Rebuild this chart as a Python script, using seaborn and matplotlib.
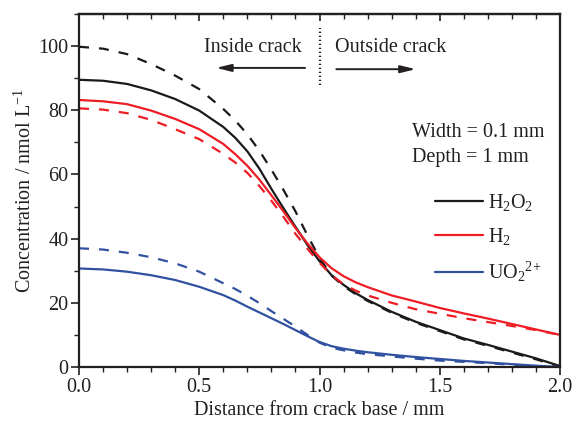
import numpy as np
import pandas as pd
import matplotlib
matplotlib.use("Agg")
import matplotlib.pyplot as plt
from matplotlib.ticker import MultipleLocator
import seaborn as sns

# ---- data ----
x = [0.0, 0.1, 0.2, 0.3, 0.4, 0.5, 0.6, 0.65, 0.7, 0.75, 0.8, 0.85, 0.9, 0.95, 1.0, 1.05, 1.1, 1.15,
     1.2, 1.3, 1.4, 1.5, 1.6, 1.7, 1.8, 1.9, 2.0]
h2o2_solid = [89.5, 89.2, 88.2, 86.2, 83.5, 79.9, 74.8, 71.4, 67.2, 61.8, 55.5, 49.5, 43.7, 38.0, 33.0,
              28.6, 25.6, 23.0, 20.9, 17.2, 14.1, 11.5, 8.9, 6.9, 4.8, 2.7, 0.3]
h2o2_dash = [99.8, 99.2, 97.5, 94.4, 90.8, 86.6, 80.4, 76.8, 72.5, 67.4, 61.5, 55.2, 48.5, 41.0, 34.0,
             28.5, 25.2, 22.7, 20.6, 16.9, 13.8, 11.2, 8.6, 6.6, 4.5, 2.4, 0.1]
h2_solid = [83.2, 82.8, 81.9, 79.9, 77.3, 74.1, 69.5, 66.3, 62.7, 58.4, 53.5, 48.5, 43.3, 38.5, 34.2,
            30.8, 28.3, 26.4, 24.9, 22.3, 20.4, 18.4, 16.7, 15.1, 13.4, 11.7, 10.0]
h2_dash = [80.6, 80.2, 79.1, 77.0, 74.1, 71.0, 66.4, 63.7, 60.5, 56.4, 51.8, 46.8, 41.5, 36.8, 32.5,
           28.6, 25.8, 23.8, 22.3, 20.0, 18.0, 16.6, 15.2, 14.0, 12.8, 11.5, 10.0]
uo2_solid = [30.7, 30.4, 29.7, 28.6, 27.1, 25.0, 22.4, 20.7, 18.8, 17.0, 15.2, 13.4, 11.5, 9.6, 7.8,
             6.5, 5.7, 5.1, 4.6, 3.8, 3.1, 2.5, 1.9, 1.4, 0.9, 0.4, 0.0]
uo2_dash = [37.0, 36.6, 35.6, 34.2, 32.3, 29.7, 26.1, 24.3, 22.2, 19.9, 17.4, 15.0, 12.6, 10.0, 7.6,
            6.0, 5.2, 4.5, 4.0, 3.3, 2.6, 2.0, 1.6, 1.2, 0.7, 0.3, 0.0]

species = ["H$_2$O$_2$", "H$_2$", "UO$_2$$^{2{+}}$"]
colors = ["#1a1a1a", "#ee1c24", "#3050a0"]

sns.set_style("ticks")
plt.rcParams["font.family"] = ["Liberation Serif", "DejaVu Serif"]
plt.rcParams["mathtext.fontset"] = "custom"
plt.rcParams["mathtext.rm"] = "Liberation Serif"
plt.rcParams["mathtext.it"] = "Liberation Serif:italic"
plt.rcParams["mathtext.bf"] = "Liberation Serif:bold"
txtc = "#231f20"
FS = 14.5

fig = plt.figure(figsize=(5.74, 4.28), dpi=100)
ax = fig.add_axes([79/574, (428-367)/428, (560-79)/574, (367-14)/428])

solids = [h2o2_solid, h2_solid, uo2_solid]
dashes = [h2o2_dash, h2_dash, uo2_dash]
lw = 1.6
for name, c, s, d in zip(species, colors, solids, dashes):
    df_d = pd.DataFrame({"x": x, "y": d})
    sns.lineplot(data=df_d, x="x", y="y", ax=ax, color=c, lw=lw,
                 linestyle=(0, (4.5, 4.5)), label="_nolegend_")
    df_s = pd.DataFrame({"x": x, "y": s})
    sns.lineplot(data=df_s, x="x", y="y", ax=ax, color=c, lw=lw, label=name)

ax.set_xlim(0, 2.0)
ax.set_ylim(0, 110)
ax.xaxis.set_minor_locator(MultipleLocator(0.1))
ax.yaxis.set_minor_locator(MultipleLocator(10))
ax.set_xticks([0, 0.5, 1.0, 1.5, 2.0])
ax.set_xticklabels(["0.0", "0.5", "1.0", "1.5", "2.0"])
ax.set_yticks([0, 20, 40, 60, 80, 100])
ax.set_yticklabels(["0", "20", "40", "60", "80", "100"])

ax.tick_params(axis="both", which="major", direction="out", length=6, width=1.2,
               labelsize=FS, colors=txtc, pad=2)
ax.tick_params(axis="y", which="major", pad=1.5)
ax.tick_params(axis="both", which="minor", direction="out", length=3.5, width=1.0,
               colors=txtc)
for sp in ax.spines.values():
    sp.set_linewidth(1.6)
    sp.set_color(txtc)

# mirrored top ticks (inward)
top = ax.secondary_xaxis("top")
top.set_xticks([0, 0.5, 1.0, 1.5, 2.0])
top.xaxis.set_minor_locator(MultipleLocator(0.1))
top.tick_params(which="major", direction="in", length=5, width=1.2, labeltop=False, colors=txtc)
top.tick_params(which="minor", direction="in", length=3.5, width=1.0, colors=txtc)
top.spines["top"].set_linewidth(1.6)
top.spines["top"].set_color(txtc)

ax.set_xlabel("Distance from crack base / mm", fontsize=FS, color=txtc, labelpad=3)
ax.set_ylabel("Concentration / nmol L$^{-1}$", fontsize=FS, color=txtc, labelpad=2)

# annotations
ax.text(0.724, 99.7, "Inside crack", ha="center", va="center", fontsize=FS, color=txtc)
ax.text(1.297, 99.7, "Outside crack", ha="center", va="center", fontsize=FS, color=txtc)
ax.plot([1.0, 1.0], [88, 105.5], linestyle=(0, (0.6, 1.2)), color=txtc, lw=1.6)
ax.annotate("", xy=(0.57, 93.2), xytext=(0.94, 93.2),
            arrowprops=dict(arrowstyle="-|>,head_length=0.9,head_width=0.22",
                            color=txtc, lw=1.4, shrinkA=0, shrinkB=0))
ax.annotate("", xy=(1.40, 92.8), xytext=(1.07, 92.8),
            arrowprops=dict(arrowstyle="-|>,head_length=0.9,head_width=0.22",
                            color=txtc, lw=1.4, shrinkA=0, shrinkB=0))
ax.text(1.385, 73.2, "Width = 0.1 mm", ha="left", va="center", fontsize=FS, color=txtc)
ax.text(1.385, 65.4, "Depth = 1 mm", ha="left", va="center", fontsize=FS, color=txtc)

leg = ax.legend(loc="upper left", bbox_to_anchor=(0.74, 0.496), frameon=False,
                fontsize=FS, handlelength=2.4, handletextpad=0.25, labelspacing=0.65,
                borderaxespad=0, borderpad=0)
for t in leg.get_texts():
    t.set_color(txtc)

fig.savefig("out.png", dpi=100)
